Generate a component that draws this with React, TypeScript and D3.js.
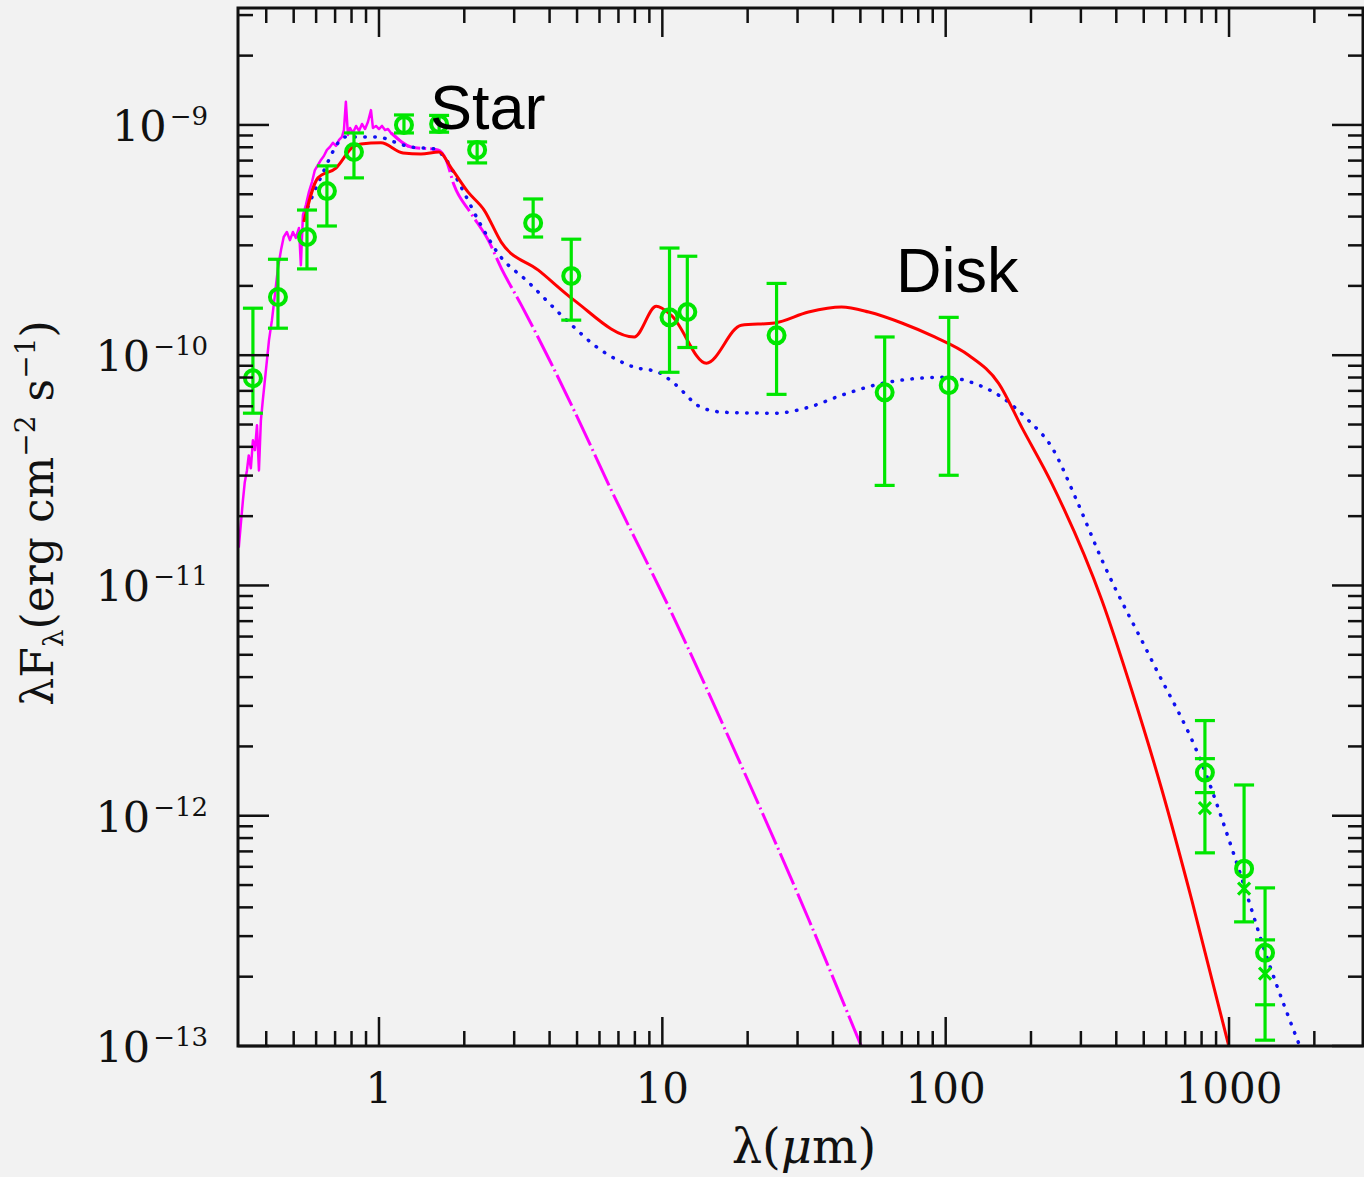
import React, { useEffect, useRef } from 'react';
import * as d3 from 'd3';

// observed photometry (circles with error bars)
const obsWave = [0.359, 0.44, 0.557, 0.655, 0.816, 1.225, 1.63, 2.22, 3.5, 4.77, 10.6, 12.25, 25.3, 60.9, 102.5, 822, 1130, 1340];
const obsFlux = [7.94e-11, 1.79e-10, 3.26e-10, 5.16e-10, 7.63e-10, 1.0e-9, 1.01e-9, 7.79e-10, 3.75e-10, 2.21e-10, 1.46e-10, 1.54e-10, 1.22e-10, 6.9e-11, 7.41e-11, 1.54e-12, 5.89e-13, 2.54e-13];
const obsLo = [5.6e-11, 1.31e-10, 2.37e-10, 3.64e-10, 5.89e-10, 9.23e-10, 9.3e-10, 6.84e-10, 3.26e-10, 1.42e-10, 8.43e-11, 1.08e-10, 6.76e-11, 2.72e-11, 3.01e-11, 6.9e-13, 3.46e-13, 1.06e-13];
const obsHi = [1.6e-10, 2.61e-10, 4.27e-10, 6.64e-10, 9.23e-10, 1.105e-9, 1.1e-9, 8.44e-10, 4.77e-10, 3.19e-10, 2.92e-10, 2.69e-10, 2.05e-10, 1.2e-10, 1.46e-10, 2.59e-12, 1.36e-12, 4.86e-13];

// mm fluxes (crosses)
const mmWave = [822, 1130, 1340];
const mmFlux = [1.08e-12, 4.82e-13, 2.06e-13];
const mmLo = [1.26e-12, 4.82e-13, 1.51e-13];
const mmHi = [1.77e-12, 4.82e-13, 2.89e-13];

// optical spectrum (magenta, solid)
const specPoints: [number, number][] = [
  [0.32, 1.46e-11], [0.325, 1.82e-11], [0.331, 2.34e-11], [0.336, 2.81e-11], [0.342, 3.16e-11],
  [0.347, 3.67e-11], [0.353, 3.23e-11], [0.359, 4.27e-11], [0.365, 3.87e-11], [0.371, 4.96e-11],
  [0.377, 3.16e-11], [0.383, 5.21e-11], [0.389, 6.37e-11], [0.399, 8.61e-11], [0.409, 1.16e-10],
  [0.419, 1.42e-10], [0.429, 1.82e-10], [0.44, 2.39e-10], [0.451, 2.86e-10], [0.461, 3.26e-10],
  [0.473, 3.43e-10], [0.485, 3.16e-10], [0.497, 3.43e-10], [0.509, 3.23e-10], [0.522, 3.57e-10],
  [0.53, 2.46e-10], [0.539, 4.06e-10], [0.552, 4.49e-10], [0.566, 5.12e-10], [0.58, 5.65e-10],
  [0.594, 6.37e-10], [0.609, 6.7e-10], [0.624, 7.05e-10], [0.639, 7.33e-10], [0.655, 7.79e-10],
  [0.671, 8.02e-10], [0.688, 8.36e-10], [0.705, 8.11e-10], [0.723, 8.61e-10], [0.74, 8.87e-10],
  [0.752, 9.5e-10], [0.764, 1.26e-9], [0.777, 9.05e-10], [0.79, 9.7e-10], [0.809, 9.23e-10],
  [0.83, 9.9e-10], [0.85, 9.42e-10], [0.871, 1.01e-9], [0.893, 9.6e-10], [0.914, 1.03e-9],
  [0.937, 1.16e-9], [0.952, 9.7e-10], [0.976, 9.9e-10], [1.0, 9.6e-10], [1.025, 9.9e-10],
  [1.05, 9.5e-10], [1.076, 9.6e-10], [1.102, 9.23e-10], [1.14, 8.96e-10], [1.178, 8.61e-10],
  [1.225, 8.27e-10], [1.276, 8.02e-10],
];

// stellar photosphere (magenta dash-dot)
const photoPoints: [number, number][] = [
  [1.102, 9.23e-10], [1.297, 8.02e-10], [1.616, 7.79e-10], [1.725, 7.05e-10], [1.84, 5.48e-10],
  [2.11, 4.14e-10], [2.43, 3.16e-10], [2.7, 2.39e-10], [3.18, 1.65e-10], [4.05, 9.23e-11],
  [5.17, 4.96e-11], [6.44, 2.77e-11], [10.76, 7.64e-12], [19.0, 1.65e-12], [32.8, 3.56e-13],
  [50.5, 9.9e-14], [59.4, 6.1e-14],
];

// disk model (red, solid)
const redPoints: [number, number][] = [
  [0.543, 3.79e-10], [0.609, 5.89e-10], [0.705, 6.5e-10], [0.809, 8.02e-10], [0.863, 8.27e-10],
  [1.016, 8.36e-10], [1.216, 7.56e-10], [1.407, 7.48e-10], [1.63, 7.63e-10], [1.8, 6.5e-10],
  [2.06, 5.12e-10], [2.35, 4.27e-10], [2.7, 3.1e-10], [3.65, 2.34e-10], [4.89, 1.73e-10],
  [7.96, 1.2e-10], [9.52, 1.63e-10], [10.76, 1.49e-10], [14.3, 9.23e-11], [19.0, 1.35e-10],
  [24.9, 1.38e-10], [32.8, 1.54e-10], [42.9, 1.62e-10], [53.5, 1.54e-10], [70.0, 1.38e-10],
  [91.4, 1.2e-10], [120.5, 1.0e-10], [153.8, 7.55e-11], [185.6, 4.86e-11], [237, 2.77e-11],
  [356, 8.61e-12], [454, 3.49e-12], [580, 1.29e-12], [740, 4.27e-13], [1000, 9.9e-14],
];

// disk model (blue, dotted)
const bluePoints: [number, number][] = [
  [0.561, 4.4e-10], [0.624, 5.94e-10], [0.764, 8.87e-10], [0.992, 8.87e-10], [1.13, 8.44e-10],
  [1.297, 8.02e-10], [1.563, 7.87e-10], [1.698, 7.26e-10], [1.95, 5.37e-10], [2.29, 3.67e-10],
  [2.63, 2.77e-10], [3.36, 2.08e-10], [4.51, 1.45e-10], [6.09, 1.05e-10], [7.96, 8.87e-11],
  [9.68, 8.43e-11], [11.0, 7.55e-11], [13.7, 5.94e-11], [16.6, 5.65e-11], [24.9, 5.6e-11],
  [32.8, 5.94e-11], [42.9, 6.7e-11], [56.1, 7.41e-11], [80.3, 7.94e-11], [99.1, 8.02e-11],
  [131, 7.41e-11], [158, 6.56e-11], [196, 5.21e-11], [237, 3.98e-11], [290, 2.34e-11],
  [356, 1.29e-11], [534, 4.72e-12], [803, 1.68e-12], [1050, 6.56e-13], [1384, 2.28e-13],
  [1782, 9.9e-14],
];

const xLabels = [1, 10, 100, 1000];
const yLabelExps = [-9, -10, -11, -12, -13];

const W = 1364;
const H = 1177;
const plot = { left: 238, right: 1363, top: 8, bottom: 1046 };

const GREEN = '#00e600';

export default function App() {
  const svgRef = useRef<SVGSVGElement>(null);

  useEffect(() => {
    if (!svgRef.current) return;
    const svg = d3.select(svgRef.current);
    svg.selectAll('*').remove();

    const x = d3.scaleLog().domain([0.318, 2970]).range([plot.left, plot.right]);
    const y = d3.scaleLog().domain([1e-13, 3.22e-9]).range([plot.bottom, plot.top]);

    svg.append('rect').attr('width', W).attr('height', H).attr('fill', '#f2f2f2');

    svg.append('clipPath').attr('id', 'plotclip')
      .append('rect')
      .attr('x', plot.left).attr('y', plot.top)
      .attr('width', plot.right - plot.left).attr('height', plot.bottom - plot.top);

    const g = svg.append('g').attr('clip-path', 'url(#plotclip)');

    const lin = d3.line<[number, number]>().x(d => x(d[0])).y(d => y(d[1]));
    const smooth = d3.line<[number, number]>().x(d => x(d[0])).y(d => y(d[1])).curve(d3.curveMonotoneX);

    // photosphere
    g.append('path').attr('d', smooth(photoPoints)).attr('fill', 'none')
      .attr('stroke', '#ff00ff').attr('stroke-width', 3).attr('stroke-dasharray', '34 4 2 4');
    // spectrum
    g.append('path').attr('d', lin(specPoints)).attr('fill', 'none')
      .attr('stroke', '#ff00ff').attr('stroke-width', 2.5).attr('stroke-linejoin', 'round');
    // blue dotted model
    g.append('path').attr('d', smooth(bluePoints)).attr('fill', 'none')
      .attr('stroke', '#1010f0').attr('stroke-width', 3.5).attr('stroke-linecap', 'round')
      .attr('stroke-dasharray', '0.5 9.5');
    // red model
    g.append('path').attr('d', smooth(redPoints)).attr('fill', 'none')
      .attr('stroke', '#ff0000').attr('stroke-width', 3).attr('stroke-linejoin', 'round');

    // error bars
    const cap = 10;
    const eb = g.append('g').attr('stroke', GREEN).attr('stroke-width', 3.2).attr('fill', 'none');
    obsWave.forEach((w, i) => {
      const cx = x(w);
      eb.append('line').attr('x1', cx).attr('x2', cx).attr('y1', y(obsLo[i])).attr('y2', y(obsHi[i]));
      eb.append('line').attr('x1', cx - cap).attr('x2', cx + cap).attr('y1', y(obsLo[i])).attr('y2', y(obsLo[i]));
      eb.append('line').attr('x1', cx - cap).attr('x2', cx + cap).attr('y1', y(obsHi[i])).attr('y2', y(obsHi[i]));
      eb.append('circle').attr('cx', cx).attr('cy', y(obsFlux[i])).attr('r', 8).attr('stroke-width', 4);
    });
    mmWave.forEach((w, i) => {
      const cx = x(w);
      if (mmHi[i] > mmLo[i]) {
        eb.append('line').attr('x1', cx - cap).attr('x2', cx + cap).attr('y1', y(mmLo[i])).attr('y2', y(mmLo[i]));
        eb.append('line').attr('x1', cx - cap).attr('x2', cx + cap).attr('y1', y(mmHi[i])).attr('y2', y(mmHi[i]));
      }
      const cy = y(mmFlux[i]);
      const s = 6;
      eb.append('path').attr('d', `M${cx - s},${cy - s}L${cx + s},${cy + s}M${cx - s},${cy + s}L${cx + s},${cy - s}`);
    });

    // frame
    svg.append('rect')
      .attr('x', plot.left).attr('y', plot.top)
      .attr('width', plot.right - plot.left).attr('height', plot.bottom - plot.top)
      .attr('fill', 'none').attr('stroke', '#111').attr('stroke-width', 3);

    // ticks
    const ticks = svg.append('g').attr('stroke', '#111').attr('stroke-width', 2.5);
    const xDom = x.domain();
    for (let e = -1; e <= 3; e++) {
      for (let m = 1; m <= 9; m++) {
        const v = m * Math.pow(10, e);
        if (v < xDom[0] || v > xDom[1]) continue;
        const len = m === 1 ? 29 : 15;
        const px = x(v);
        ticks.append('line').attr('x1', px).attr('x2', px).attr('y1', plot.bottom).attr('y2', plot.bottom - len);
        ticks.append('line').attr('x1', px).attr('x2', px).attr('y1', plot.top).attr('y2', plot.top + len);
      }
    }
    const yDom = y.domain();
    for (let e = -13; e <= -9; e++) {
      for (let m = 1; m <= 9; m++) {
        const v = m * Math.pow(10, e);
        if (v < yDom[0] * 0.999 || v > yDom[1]) continue;
        const len = m === 1 ? 31 : 15;
        const py = y(v);
        ticks.append('line').attr('x1', plot.left).attr('x2', plot.left + len).attr('y1', py).attr('y2', py);
        ticks.append('line').attr('x1', plot.right).attr('x2', plot.right - len).attr('y1', py).attr('y2', py);
      }
    }

    const serif = "'DejaVu Serif', serif";

    // x tick labels
    svg.append('g').selectAll('text').data(xLabels).enter().append('text')
      .attr('x', d => x(d)).attr('y', 1103)
      .attr('text-anchor', 'middle').attr('font-family', serif).attr('font-size', 42)
      .attr('fill', '#111').text(d => String(d));

    // y tick labels
    yLabelExps.forEach(ex => {
      const t = svg.append('text')
        .attr('x', 208).attr('y', y(Math.pow(10, ex)) + 16)
        .attr('text-anchor', 'end').attr('font-family', serif).attr('fill', '#111');
      t.append('tspan').attr('font-size', 43).text('10');
      t.append('tspan').attr('font-size', 26).attr('dx', 3).attr('dy', -16).text('\u2212' + String(-ex));
    });

    // axis titles
    const xt = svg.append('text').attr('x', 804).attr('y', 1163)
      .attr('text-anchor', 'middle').attr('font-family', serif).attr('font-size', 48).attr('fill', '#111');
    xt.append('tspan').text('\u03bb(');
    xt.append('tspan').attr('font-style', 'italic').text('\u03bc');
    xt.append('tspan').text('m)');

    const yt = svg.append('text').attr('transform', 'translate(53,513) rotate(-90)')
      .attr('text-anchor', 'middle').attr('font-family', serif).attr('font-size', 44).attr('fill', '#111');
    yt.append('tspan').text('\u03bbF');
    yt.append('tspan').attr('font-size', 28).attr('dy', 10).text('\u03bb');
    yt.append('tspan').attr('dy', -10).text('(erg cm');
    yt.append('tspan').attr('font-size', 28).attr('dy', -18).text('\u22122');
    yt.append('tspan').attr('dy', 18).text(' s');
    yt.append('tspan').attr('font-size', 28).attr('dy', -18).text('\u22121');
    yt.append('tspan').attr('dy', 18).text(')');

    // annotations
    const sans = "'Liberation Sans', Arial, sans-serif";
    svg.append('text').attr('x', 430).attr('y', 129).attr('font-family', sans)
      .attr('font-size', 63).attr('fill', '#000').text('Star');
    svg.append('text').attr('x', 896).attr('y', 292).attr('font-family', sans)
      .attr('font-size', 63).attr('fill', '#000').text('Disk');
  }, []);

  return (
    <svg
      ref={svgRef}
      width={W}
      height={H}
      style={{ position: 'absolute', left: 0, top: 0, display: 'block' }}
    />
  );
}
